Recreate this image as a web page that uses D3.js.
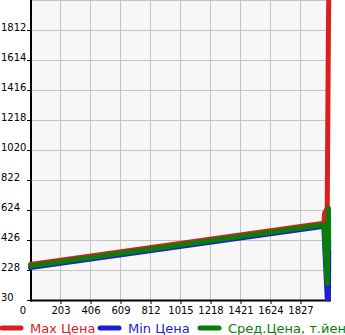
<!DOCTYPE html>
<html>
<head>
<meta charset="utf-8">
<script src="https://cdn.jsdelivr.net/npm/d3@7"></script>
<style>
  body { margin: 0; background: #fff; }
  svg { display: block; }
</style>
</head>
<body>
<div id="chart"></div>
<script>
const width = 345;
const height = 335;

// data
const days = [0, 1985, 1990, 2008, 2016, 2018];
const maxPrice = [268, 540, 605, 640, 1840, 2010];
const minPrice = [247, 520, 400, 40, 40, 360];
const avgPrice = [258, 530, 450, 142, 640, 380];
const xTicks = [0, 203, 406, 609, 812, 1015, 1218, 1421, 1624, 1827];
const yTicks = [30, 228, 426, 624, 822, 1020, 1218, 1416, 1614, 1812];
const seriesNames = ["Max Цена", "Min Цена", "Сред.Цена, т.йен"];
const seriesColors = ["#dc1e1e", "#1e1ed2", "#0a7d0a"];

const x = d3.scaleLinear().domain([0, 2030]).range([30.5, 330.5]);
const y = d3.scaleLinear().domain([30, 2010]).range([300.5, 0.5]);

const svg = d3.select("#chart").append("svg")
  .attr("width", width)
  .attr("height", height);

// plot background
svg.append("rect")
  .attr("x", 30).attr("y", 0)
  .attr("width", 300).attr("height", 300)
  .attr("fill", "#f7f7f7");

// grid
svg.append("g").selectAll("line")
  .data(xTicks.slice(1))
  .join("line")
  .attr("x1", d => x(d)).attr("x2", d => x(d))
  .attr("y1", 0).attr("y2", 300)
  .attr("stroke", "#c4c4c4");

svg.append("g").selectAll("line")
  .data(yTicks.slice(1).concat([2010]))
  .join("line")
  .attr("x1", 30).attr("x2", 330)
  .attr("y1", d => y(d)).attr("y2", d => y(d))
  .attr("stroke", "#c4c4c4");

// axes
const yAxis = svg.append("g")
  .attr("transform", "translate(1,0)")
  .call(d3.axisLeft(y).tickValues(yTicks).tickFormat(d3.format("d")).tickSize(0).tickPadding(0));
yAxis.select(".domain").remove();
yAxis.selectAll("text")
  .attr("text-anchor", "start")
  .attr("x", 0)
  .attr("dy", "-0.5")
  .attr("font-family", "DejaVu Sans")
  .attr("font-size", 10)
  .attr("fill", "#000");

svg.append("g").selectAll("line")
  .data(yTicks)
  .join("line")
  .attr("x1", 27).attr("x2", 31)
  .attr("y1", d => y(d)).attr("y2", d => y(d))
  .attr("stroke", "#000");

const xAxis = svg.append("g")
  .attr("transform", "translate(0,300)")
  .call(d3.axisBottom(x).tickValues(xTicks).tickFormat(d3.format("d")).tickSize(4).tickPadding(3));
xAxis.select(".domain").remove();
xAxis.selectAll("line").attr("stroke", "#000");
xAxis.selectAll("text")
  .attr("font-family", "DejaVu Sans")
  .attr("font-size", 10)
  .attr("fill", "#000");
xAxis.selectAll(".tick").filter(d => d === 0).select("text").attr("x", -8);
xAxis.selectAll(".tick").filter(d => d === 0).select("line").remove();

svg.append("line")
  .attr("x1", 31).attr("x2", 31)
  .attr("y1", 0).attr("y2", 301.5)
  .attr("stroke", "#000").attr("stroke-width", 2);
svg.append("line")
  .attr("x1", 30).attr("x2", 331)
  .attr("y1", 300.5).attr("y2", 300.5)
  .attr("stroke", "#000").attr("stroke-width", 2);

// lines
const line = d3.line()
  .x((d, i) => x(days[i]))
  .y(d => y(d));

[maxPrice, minPrice, avgPrice].forEach((vals, i) => {
  svg.append("path")
    .attr("d", line(vals))
    .attr("fill", "none")
    .attr("stroke", seriesColors[i])
    .attr("stroke-width", 5)
    .attr("stroke-linejoin", "round")
    .attr("stroke-linecap", "round");
});

// legend
const legendX = [0, 98, 198];
const legend = svg.append("g");
seriesNames.forEach((name, i) => {
  legend.append("line")
    .attr("x1", legendX[i] + 2).attr("x2", legendX[i] + 21)
    .attr("y1", 328).attr("y2", 328)
    .attr("stroke", seriesColors[i])
    .attr("stroke-width", 5)
    .attr("stroke-linecap", "round");
  legend.append("text")
    .attr("x", legendX[i] + 30)
    .attr("y", 333)
    .attr("font-family", "DejaVu Sans")
    .attr("font-size", 13)
    .attr("fill", seriesColors[i])
    .text(name);
});
</script>
</body>
</html>
